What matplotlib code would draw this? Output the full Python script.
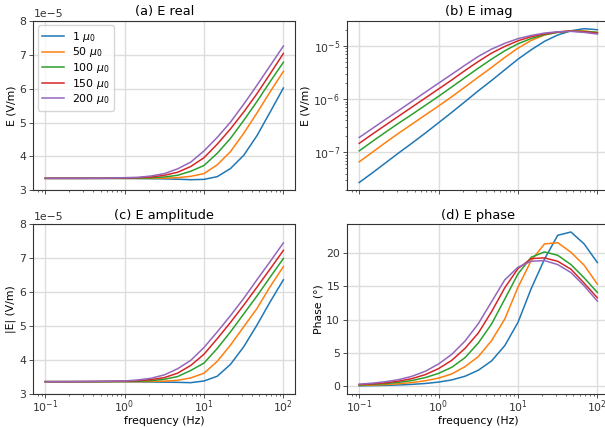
import numpy as np
import matplotlib
matplotlib.use("Agg")
import matplotlib.pyplot as plt

# frequencies (Hz): 19 log-spaced samples from 0.1 to 100
freq = [0.1, 0.1468, 0.2154, 0.3162, 0.4642, 0.6813, 1.0, 1.468, 2.154, 3.162,
        4.642, 6.813, 10.0, 14.68, 21.54, 31.62, 46.42, 68.13, 100.0]
labels = [r"1 $\mu_0$", r"50 $\mu_0$", r"100 $\mu_0$", r"150 $\mu_0$", r"200 $\mu_0$"]

# (a) real part, units of 1e-5 V/m
real_1 = [3.35, 3.35, 3.35, 3.35, 3.35, 3.35, 3.35, 3.345, 3.34, 3.335, 3.325, 3.31, 3.32, 3.40, 3.64, 4.03, 4.61, 5.31, 6.02]
real_50 = [3.35, 3.35, 3.35, 3.35, 3.35, 3.35, 3.35, 3.35, 3.35, 3.355, 3.37, 3.41, 3.49, 3.75, 4.14, 4.68, 5.28, 5.91, 6.51]
real_100 = [3.35, 3.35, 3.35, 3.35, 3.35, 3.35, 3.35, 3.355, 3.365, 3.39, 3.44, 3.56, 3.73, 4.09, 4.53, 5.06, 5.62, 6.21, 6.78]
real_150 = [3.35, 3.35, 3.35, 3.35, 3.35, 3.355, 3.36, 3.37, 3.39, 3.44, 3.53, 3.70, 3.96, 4.36, 4.81, 5.31, 5.85, 6.44, 7.04]
real_200 = [3.35, 3.35, 3.35, 3.35, 3.355, 3.36, 3.37, 3.38, 3.42, 3.49, 3.63, 3.83, 4.16, 4.56, 5.01, 5.54, 6.10, 6.68, 7.26]

# (b) imaginary part (V/m)
imag_1 = [2.73e-8, 4.15e-8, 6.40e-8, 9.86e-8, 1.50e-7, 2.31e-7, 3.61e-7, 5.65e-7, 8.97e-7, 1.43e-6,
          2.23e-6, 3.54e-6, 5.61e-6, 8.41e-6, 1.21e-5, 1.59e-5, 1.91e-5, 2.09e-5, 2.00e-5]
imag_50 = [6.67e-8, 1.01e-7, 1.54e-7, 2.31e-7, 3.41e-7, 5.04e-7, 7.43e-7, 1.11e-6, 1.69e-6, 2.58e-6,
           3.92e-6, 6.04e-6, 9.04e-6, 1.26e-5, 1.59e-5, 1.81e-5, 1.91e-5, 1.89e-5, 1.78e-5]
imag_100 = [1.07e-7, 1.61e-7, 2.41e-7, 3.56e-7, 5.19e-7, 7.66e-7, 1.13e-6, 1.69e-6, 2.54e-6, 3.80e-6,
            5.61e-6, 8.05e-6, 1.09e-5, 1.37e-5, 1.61e-5, 1.78e-5, 1.89e-5, 1.86e-5, 1.78e-5]
imag_150 = [1.48e-7, 2.21e-7, 3.27e-7, 4.82e-7, 7.13e-7, 1.05e-6, 1.55e-6, 2.29e-6, 3.44e-6, 5.07e-6,
            7.28e-6, 9.71e-6, 1.24e-5, 1.48e-5, 1.66e-5, 1.81e-5, 1.89e-5, 1.83e-5, 1.73e-5]
imag_200 = [1.91e-7, 2.82e-7, 4.18e-7, 6.17e-7, 9.10e-7, 1.35e-6, 1.99e-6, 2.93e-6, 4.33e-6, 6.30e-6,
            8.65e-6, 1.11e-5, 1.36e-5, 1.56e-5, 1.73e-5, 1.83e-5, 1.86e-5, 1.78e-5, 1.66e-5]

# (c) amplitude, units of 1e-5 V/m
amp_1 = [3.35, 3.35, 3.35, 3.35, 3.35, 3.35, 3.35, 3.345, 3.34, 3.335, 3.33, 3.32, 3.37, 3.51, 3.86, 4.38, 5.02, 5.71, 6.36]
amp_50 = [3.35, 3.35, 3.35, 3.35, 3.35, 3.35, 3.35, 3.35, 3.355, 3.365, 3.39, 3.46, 3.60, 3.95, 4.43, 4.97, 5.51, 6.16, 6.75]
amp_100 = [3.35, 3.35, 3.35, 3.35, 3.35, 3.352, 3.355, 3.36, 3.38, 3.42, 3.50, 3.68, 3.90, 4.33, 4.82, 5.35, 5.88, 6.44, 6.99]
amp_150 = [3.35, 3.35, 3.35, 3.352, 3.355, 3.36, 3.365, 3.38, 3.41, 3.47, 3.60, 3.83, 4.16, 4.62, 5.10, 5.61, 6.14, 6.68, 7.23]
amp_200 = [3.35, 3.35, 3.352, 3.355, 3.36, 3.365, 3.37, 3.40, 3.45, 3.55, 3.73, 3.98, 4.36, 4.82, 5.30, 5.81, 6.36, 6.90, 7.45]

# (d) phase (degrees)
phase_1 = [0.06, 0.09, 0.13, 0.19, 0.28, 0.41, 0.62, 0.95, 1.5, 2.4, 3.8, 6.1, 9.6, 14.7, 19.1, 22.7, 23.2, 21.4, 18.6]
phase_50 = [0.12, 0.17, 0.25, 0.37, 0.55, 0.82, 1.22, 1.85, 2.95, 4.45, 6.85, 10.1, 14.9, 18.9, 21.4, 21.6, 20.15, 18.2, 15.35]
phase_100 = [0.18, 0.27, 0.39, 0.58, 0.86, 1.3, 1.93, 2.85, 4.3, 6.5, 9.35, 13.1, 16.9, 19.4, 20.2, 19.7, 18.3, 16.3, 14.1]
phase_150 = [0.24, 0.35, 0.52, 0.77, 1.15, 1.75, 2.65, 3.9, 5.7, 8.0, 11.2, 14.8, 17.7, 19.2, 19.3, 18.8, 17.6, 15.5, 13.3]
phase_200 = [0.31, 0.46, 0.68, 1.0, 1.5, 2.25, 3.35, 4.8, 6.8, 9.4, 12.7, 16.0, 17.9, 18.8, 18.9, 18.3, 17.1, 15.1, 12.8]

real = [real_1, real_50, real_100, real_150, real_200]
imag = [imag_1, imag_50, imag_100, imag_150, imag_200]
amp = [amp_1, amp_50, amp_100, amp_150, amp_200]
phase = [phase_1, phase_50, phase_100, phase_150, phase_200]
colors = ["#1f77b4", "#ff7f0e", "#2ca02c", "#d62728", "#9467bd"]

fs = 7.8
plt.rcParams.update({
    "font.size": fs,
    "axes.titlesize": 9.4,
    "axes.titlepad": 4.0,
    "axes.labelsize": fs,
    "axes.labelpad": 2.0,
    "xtick.labelsize": fs,
    "ytick.labelsize": fs,
    "legend.fontsize": fs,
    "legend.labelspacing": 0.15,
    "axes.edgecolor": "#333333",
    "axes.linewidth": 0.8,
    "xtick.color": "#333333",
    "ytick.color": "#333333",
    "xtick.major.size": 2.7,
    "ytick.major.size": 2.7,
    "xtick.minor.size": 1.6,
    "ytick.minor.size": 1.6,
    "xtick.major.pad": 0.5,
    "ytick.major.pad": 2.5,
    "xtick.major.width": 0.6,
    "ytick.major.width": 0.6,
    "xtick.minor.width": 0.5,
    "ytick.minor.width": 0.5,
})

W, H = 605, 428
fig = plt.figure(figsize=(W / 100, H / 100), dpi=100)
aw, ah = 262, 169.2

def box(x0, ytop):
    return [x0 / W, 1 - (ytop + ah) / H, aw / W, ah / H]

ax_a = fig.add_axes(box(33.3, 21.0))
ax_b = fig.add_axes(box(347.3, 21.0), sharex=ax_a)
ax_c = fig.add_axes(box(33.3, 224.3), sharex=ax_a)
ax_d = fig.add_axes(box(347.3, 224.3), sharex=ax_a)

f = np.array(freq)
for i in range(5):
    ax_a.plot(f, np.array(real[i]) * 1e-5, color=colors[i], lw=1.1, label=labels[i])
    ax_b.plot(f, imag[i], color=colors[i], lw=1.1)
    ax_c.plot(f, np.array(amp[i]) * 1e-5, color=colors[i], lw=1.1)
    ax_d.plot(f, phase[i], color=colors[i], lw=1.1)

ax_a.set_xscale("log")
ax_b.set_yscale("log")
ax_a.set_ylim(3e-5, 8e-5)
ax_c.set_ylim(3e-5, 8e-5)

ax_a.set_title("(a) E real")
ax_b.set_title("(b) E imag")
ax_c.set_title("(c) E amplitude")
ax_d.set_title("(d) E phase")
ax_a.set_ylabel("E (V/m)")
ax_b.set_ylabel("E (V/m)")
ax_c.set_ylabel("|E| (V/m)")
ax_d.set_ylabel("Phase (°)")
ax_c.set_xlabel("frequency (Hz)", labelpad=1.0)
ax_d.set_xlabel("frequency (Hz)", labelpad=1.0)

for ax in (ax_a, ax_b, ax_c, ax_d):
    ax.grid(True, which="major", color="#dddddd", lw=1.0)
    ax.set_axisbelow(True)
for ax in (ax_a, ax_b):
    ax.tick_params(labelbottom=False)

ax_a.legend(loc="upper left", borderaxespad=0.4)

fig.savefig("out.png", dpi=100)
